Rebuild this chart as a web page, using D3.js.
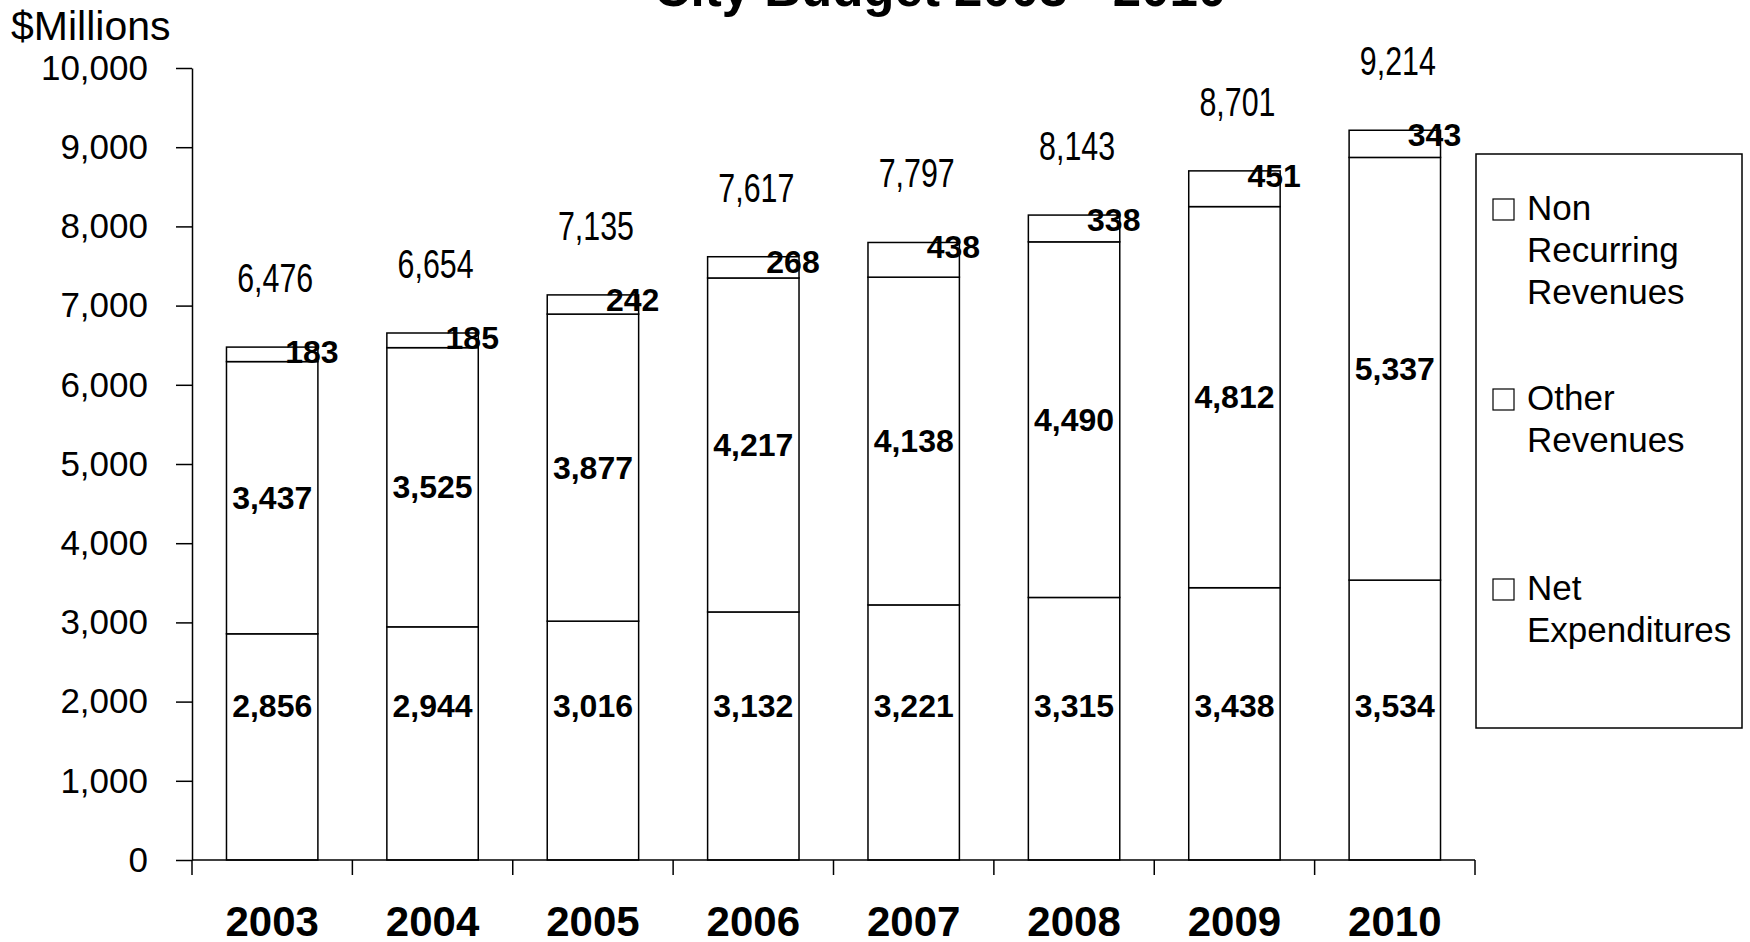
<!DOCTYPE html>
<html>
<head>
<meta charset="utf-8">
<script src="https://cdn.jsdelivr.net/npm/d3@7"></script>
<style>
  body { margin: 0; background: #fff; }
  svg { display: block; font-family: "Liberation Sans", Arial, sans-serif; }
  .axis path, .axis line { stroke: #000; stroke-width: 1.5px; }
  .axis text { font-size: 35px; fill: #000; }
</style>
</head>
<body>
<div id="chart"></div>
<script>
// City budget, $ millions
const years = ["2003", "2004", "2005", "2006", "2007", "2008", "2009", "2010"];
const netExpenditures = [2856, 2944, 3016, 3132, 3221, 3315, 3438, 3534];
const otherRevenues = [3437, 3525, 3877, 4217, 4138, 4490, 4812, 5337];
const nonRecurring = [183, 185, 242, 268, 438, 338, 451, 343];
const totals = [6476, 6654, 7135, 7617, 7797, 8143, 8701, 9214];
const yTicks = [0, 1000, 2000, 3000, 4000, 5000, 6000, 7000, 8000, 9000, 10000];
const seriesKeys = ["net", "other", "nonRec"];
const legendLabels = [
    ["Non", "Recurring", "Revenues"],
    ["Other", "Revenues"],
    ["Net", "Expenditures"]
];

const width = 1750;
const height = 942;
const margin = { top: 68, right: 275, bottom: 82, left: 192 };

const rows = years.map((y, i) => ({
    year: y,
    net: netExpenditures[i],
    other: otherRevenues[i],
    nonRec: nonRecurring[i],
    total: totals[i]
}));

const svg = d3.select("#chart").append("svg")
    .attr("width", width)
    .attr("height", height);

svg.append("rect").attr("width", width).attr("height", height).attr("fill", "#fff");

// Scales
const x = d3.scaleBand()
    .domain(years)
    .range([margin.left, width - margin.right])
    .paddingInner(0.43)
    .paddingOuter(0.215);

const xCat = d3.scaleBand()
    .domain(years)
    .range([margin.left, width - margin.right]);

const y = d3.scaleLinear()
    .domain([0, 10000])
    .range([height - margin.bottom, margin.top]);

// Title (runs off the top edge in the original)
svg.append("text")
    .attr("x", 940)
    .attr("y", 6)
    .attr("text-anchor", "middle")
    .style("font-size", "51px")
    .style("font-weight", "bold")
    .text("City Budget 2003 - 2010");

svg.append("text")
    .attr("x", 11)
    .attr("y", 40)
    .style("font-size", "41px")
    .text("$Millions");

// Y axis
svg.append("g")
    .attr("class", "axis y-axis")
    .attr("transform", `translate(${margin.left}, 0)`)
    .call(d3.axisLeft(y)
        .tickValues(yTicks)
        .tickFormat(d3.format(","))
        .tickSize(16)
        .tickSizeOuter(0)
        .tickPadding(28));

// Stacked bars
const stacked = d3.stack().keys(seriesKeys)(rows);

const layers = svg.append("g").attr("class", "bars-group")
    .selectAll("g")
    .data(stacked)
    .join("g");

layers.selectAll("rect")
    .data(d => d)
    .join("rect")
    .attr("x", d => x(d.data.year))
    .attr("y", d => y(d[1]))
    .attr("width", x.bandwidth())
    .attr("height", d => y(d[0]) - y(d[1]))
    .attr("fill", "#fff")
    .attr("stroke", "#000")
    .attr("stroke-width", 1.5);

// X axis line with boundary ticks
const xAxis = svg.append("g").attr("class", "axis x-axis");
const y0 = y(0);
xAxis.append("line")
    .attr("x1", margin.left).attr("x2", width - margin.right)
    .attr("y1", y0).attr("y2", y0);
const bounds = years.map(d => xCat(d)).concat([width - margin.right]);
xAxis.selectAll(".xtick")
    .data(bounds)
    .join("line")
    .attr("class", "xtick")
    .attr("x1", d => d).attr("x2", d => d)
    .attr("y1", y0).attr("y2", y0 + 15);

svg.append("g")
    .selectAll("text")
    .data(years)
    .join("text")
    .attr("x", d => xCat(d) + xCat.bandwidth() / 2)
    .attr("y", 936)
    .attr("text-anchor", "middle")
    .style("font-size", "42px")
    .style("font-weight", "bold")
    .text(d => d);

// Segment labels
const fmt = d3.format(",");
const labels = svg.append("g").attr("class", "labels")
    .style("font-size", "32px")
    .style("font-weight", "bold");

labels.selectAll(".lbl-net")
    .data(rows)
    .join("text")
    .attr("class", "lbl-net")
    .attr("x", d => x(d.year) + x.bandwidth() / 2)
    .attr("y", y(1950) + 11)
    .attr("text-anchor", "middle")
    .text(d => fmt(d.net));

labels.selectAll(".lbl-other")
    .data(rows)
    .join("text")
    .attr("class", "lbl-other")
    .attr("x", d => x(d.year) + x.bandwidth() / 2)
    .attr("y", d => y(d.net + d.other / 2) + 11)
    .attr("text-anchor", "middle")
    .text(d => fmt(d.other));

labels.selectAll(".lbl-nonrec")
    .data(rows)
    .join("text")
    .attr("class", "lbl-nonrec")
    .attr("x", d => x(d.year) + x.bandwidth() - 6)
    .attr("y", d => y(d.total) + 16)
    .attr("text-anchor", "middle")
    .text(d => fmt(d.nonRec));

// Totals above bars, in a condensed face
svg.append("g")
    .selectAll("text")
    .data(rows)
    .join("text")
    .attr("transform", d => `translate(${x(d.year) + x.bandwidth() / 2 + 3}, ${y(d.total) - 55}) scale(0.76, 1)`)
    .attr("text-anchor", "middle")
    .style("font-size", "40px")
    .text(d => fmt(d.total));

// Legend
const legend = svg.append("g").attr("class", "legend")
    .attr("transform", "translate(1476, 154)");

legend.append("rect")
    .attr("width", 266)
    .attr("height", 574)
    .attr("fill", "#fff")
    .attr("stroke", "#000")
    .attr("stroke-width", 1.5);

legendLabels.forEach((lines, i) => {
    const g = legend.append("g").attr("transform", `translate(17, ${66 + i * 190})`);
    g.append("rect")
        .attr("x", 0).attr("y", -21)
        .attr("width", 21).attr("height", 21)
        .attr("fill", "#fff")
        .attr("stroke", "#000")
        .attr("stroke-width", 1.2);
    const t = g.append("text").style("font-size", "35px");
    lines.forEach((line, j) => {
        t.append("tspan")
            .attr("x", 34)
            .attr("y", j * 42)
            .text(line);
    });
});
</script>
</body>
</html>
